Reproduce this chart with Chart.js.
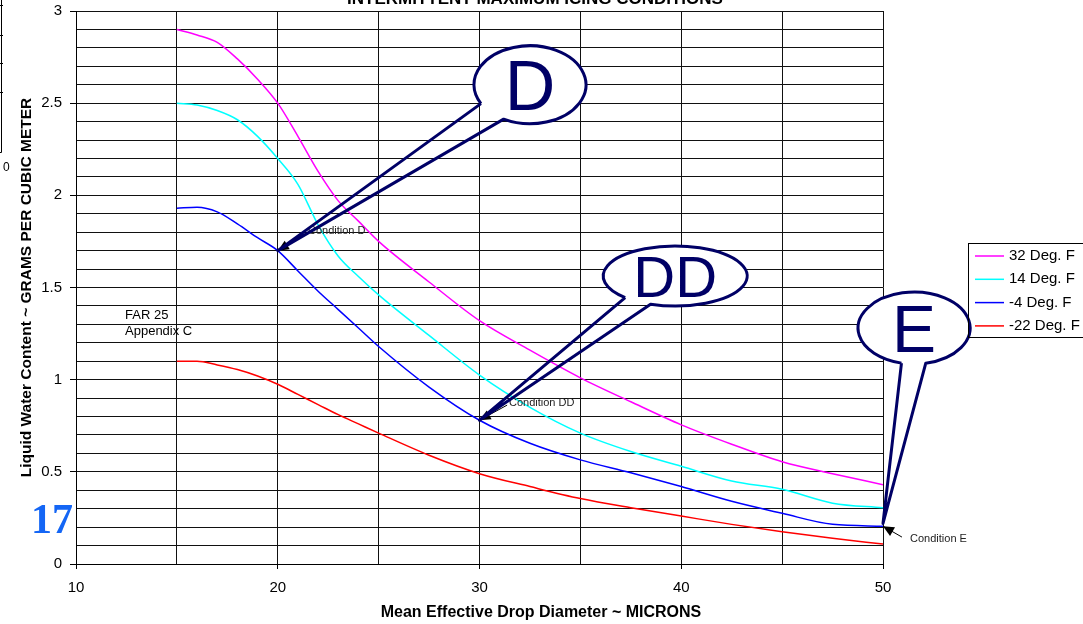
<!DOCTYPE html>
<html>
<head>
<meta charset="utf-8">
<title>Liquid Water Content vs Mean Effective Drop Diameter</title>
<script src="https://cdn.jsdelivr.net/npm/chart.js@4.4.1/dist/chart.umd.min.js"></script>
<style>
  html, body { margin: 0; padding: 0; background: #fff; }
  #wrap { position: relative; width: 1083px; height: 624px; }
</style>
</head>
<body>
<div id="wrap"><canvas id="lwcChart" width="1083" height="624"></canvas></div>
<script>
// Mean effective drop diameter (microns), shared by every curve
const diameters = [15, 16, 17, 18, 19, 20, 21, 22, 23, 24, 25, 27.5, 30, 32.5, 35, 37.5, 40, 42.5, 45, 47.5, 50];

// Liquid water content (g/m3)
const lwc32F = [2.90, 2.87, 2.83, 2.74, 2.63, 2.50, 2.32, 2.13, 1.97, 1.86, 1.75, 1.53, 1.32, 1.16, 1.01, 0.88, 0.755, 0.65, 0.555, 0.49, 0.43];
const lwc14F = [2.50, 2.49, 2.46, 2.41, 2.32, 2.20, 2.06, 1.84, 1.67, 1.56, 1.46, 1.24, 1.025, 0.85, 0.71, 0.61, 0.53, 0.45, 0.405, 0.33, 0.305];
const lwcMinus4F = [1.93, 1.935, 1.91, 1.845, 1.77, 1.70, 1.59, 1.48, 1.38, 1.28, 1.18, 0.96, 0.78, 0.655, 0.565, 0.495, 0.42, 0.34, 0.275, 0.215, 0.205];
const lwcMinus22F = [1.10, 1.10, 1.08, 1.055, 1.02, 0.975, 0.92, 0.865, 0.81, 0.76, 0.71, 0.59, 0.49, 0.42, 0.355, 0.305, 0.26, 0.215, 0.175, 0.14, 0.108];

const seriesNames = ['32 Deg. F', '14 Deg. F', '-4 Deg. F', '-22 Deg. F'];
const seriesColors = ['#ff00ff', '#00ffff', '#0000ff', '#ff0000'];

// labelled ticks (grid lines are drawn at every 5 microns / 0.1 g)
const xTickLabels = [10, 20, 30, 40, 50];
const yTickLabels = [0, 0.5, 1, 1.5, 2, 2.5, 3];

const navy = '#000066';

// callout balloons, anchored in data units
const callouts = [
  { text: 'D', x: 32.5, y: 2.6, tipX: 20, tipY: 1.70, rx: 56, ry: 39, a: 151, b: 118, size: 70 },
  { text: 'DD', x: 39.7, y: 1.5625, tipX: 30, tipY: 0.78, rx: 72, ry: 30, a: 134, b: 110, size: 58 },
  { text: 'E', x: 51.54, y: 1.28, tipX: 50, tipY: 0.22, rx: 56, ry: 36, a: 103, b: 78, size: 66 }
];

// small "Condition" notes with black arrows
const notes = [
  { text: 'Condition D', x: 21.5, y: 1.807, fromX: 21.4, fromY: 1.79, toX: 20, toY: 1.70 },
  { text: 'Condition DD', x: 31.46, y: 0.873, fromX: 31.37, fromY: 0.862, toX: 30, toY: 0.78 },
  { text: 'Condition E', x: 51.34, y: 0.136, fromX: 50.94, fromY: 0.146, toX: 50, toY: 0.205 }
];

function toPoints(values) {
  return diameters.map((d, i) => ({ x: d, y: values[i] }));
}

function isLabelled(list, v) {
  return list.some(t => Math.abs(t - v) < 1e-6);
}

function arrowHead(ctx, x0, y0, x1, y1, len, half) {
  const ang = Math.atan2(y1 - y0, x1 - x0);
  ctx.beginPath();
  ctx.moveTo(x1, y1);
  ctx.lineTo(x1 - len * Math.cos(ang) + half * Math.sin(ang), y1 - len * Math.sin(ang) - half * Math.cos(ang));
  ctx.lineTo(x1 - len * Math.cos(ang) - half * Math.sin(ang), y1 - len * Math.sin(ang) + half * Math.cos(ang));
  ctx.closePath();
  ctx.fill();
}

const annotations = {
  id: 'annotations',
  afterDatasetsDraw(chart) {
    const ctx = chart.ctx;
    const xs = chart.scales.x, ys = chart.scales.y;
    ctx.save();

    // FAR 25 note
    ctx.fillStyle = '#000';
    ctx.font = '13px "Liberation Sans", Arial, sans-serif';
    ctx.textAlign = 'left';
    ctx.textBaseline = 'middle';
    ctx.fillText('FAR 25', xs.getPixelForValue(12.43), ys.getPixelForValue(1.35));
    ctx.fillText('Appendix C', xs.getPixelForValue(12.43), ys.getPixelForValue(1.26));

    // condition notes + black arrows
    ctx.font = '11px "Liberation Sans", Arial, sans-serif';
    notes.forEach(n => {
      const fx = xs.getPixelForValue(n.fromX), fy = ys.getPixelForValue(n.fromY);
      const tx = xs.getPixelForValue(n.toX), ty = ys.getPixelForValue(n.toY);
      ctx.strokeStyle = '#000';
      ctx.lineWidth = 1;
      ctx.beginPath();
      ctx.moveTo(fx, fy);
      ctx.lineTo(tx, ty);
      ctx.stroke();
      ctx.fillStyle = '#000';
      arrowHead(ctx, fx, fy, tx, ty, 11, 5);
      ctx.fillStyle = '#222';
      ctx.fillText(n.text, xs.getPixelForValue(n.x), ys.getPixelForValue(n.y));
    });

    // balloon callouts
    callouts.forEach(c => {
      const cx = xs.getPixelForValue(c.x), cy = ys.getPixelForValue(c.y);
      const tx = xs.getPixelForValue(c.tipX), ty = ys.getPixelForValue(c.tipY);
      const a = c.a * Math.PI / 180, b = c.b * Math.PI / 180;
      ctx.beginPath();
      ctx.ellipse(cx, cy, c.rx, c.ry, 0, 0, Math.PI * 2);
      ctx.fillStyle = '#fff';
      ctx.fill();
      ctx.beginPath();
      ctx.moveTo(cx + c.rx * Math.cos(a), cy + c.ry * Math.sin(a));
      ctx.lineTo(tx, ty);
      ctx.lineTo(cx + c.rx * Math.cos(b), cy + c.ry * Math.sin(b));
      ctx.ellipse(cx, cy, c.rx, c.ry, 0, b, a, true);
      ctx.lineWidth = 3;
      ctx.strokeStyle = navy;
      ctx.lineJoin = 'round';
      ctx.stroke();
      ctx.fillStyle = navy;
      ctx.font = c.size + 'px "Liberation Sans", Arial, sans-serif';
      ctx.textAlign = 'center';
      ctx.textBaseline = 'alphabetic';
      ctx.fillText(c.text, cx, cy + c.size * 0.358);
      ctx.textAlign = 'left';
      ctx.textBaseline = 'middle';
    });
    ctx.restore();
  },
  afterDraw(chart) {
    const ctx = chart.ctx;
    ctx.save();

    // clipped chart title at the very top
    ctx.fillStyle = '#000';
    ctx.font = 'bold 17px "Liberation Sans", Arial, sans-serif';
    ctx.textAlign = 'center';
    ctx.textBaseline = 'alphabetic';
    ctx.fillText('INTERMITTENT MAXIMUM ICING CONDITIONS', 535, 4);

    // x axis title (centred on the whole chart, as in the source)
    ctx.font = 'bold 16px "Liberation Sans", Arial, sans-serif';
    ctx.textBaseline = 'middle';
    ctx.fillText('Mean Effective Drop Diameter ~ MICRONS', 541, 613);

    // legend
    ctx.strokeStyle = '#000';
    ctx.lineWidth = 1;
    ctx.strokeRect(968.5, 243.5, 130, 94);
    ctx.font = '15px "Liberation Sans", Arial, sans-serif';
    ctx.textAlign = 'left';
    chart.data.datasets.forEach((ds, i) => {
      const yy = 256 + i * 23.3;
      ctx.strokeStyle = ds.borderColor;
      ctx.lineWidth = 1.5;
      ctx.beginPath();
      ctx.moveTo(975, yy);
      ctx.lineTo(1004, yy);
      ctx.stroke();
      ctx.fillStyle = '#000';
      ctx.fillText(ds.label, 1009, yy);
    });

    // page number
    ctx.fillStyle = '#1466f5';
    ctx.font = 'bold 42px "Liberation Serif", "Times New Roman", serif';
    ctx.textBaseline = 'alphabetic';
    ctx.fillText('17', 31, 533);

    // remains of the neighbouring chart on the left edge
    ctx.strokeStyle = '#000';
    ctx.lineWidth = 1;
    ctx.beginPath();
    ctx.moveTo(1.5, 0);
    ctx.lineTo(1.5, 152.5);
    ctx.lineTo(0, 152.5);
    [5, 35, 63, 92].forEach(yy => { ctx.moveTo(0, yy + 0.5); ctx.lineTo(3, yy + 0.5); });
    ctx.stroke();
    ctx.fillStyle = '#000';
    ctx.font = '12px "Liberation Sans", Arial, sans-serif';
    ctx.textBaseline = 'middle';
    ctx.fillText('0', 3, 168);
    ctx.restore();
  }
};

const ctx = document.getElementById('lwcChart');
const lwcChart = new Chart(ctx, {
  type: 'line',
  data: {
    datasets: [lwc32F, lwc14F, lwcMinus4F, lwcMinus22F].map((vals, i) => ({
      label: seriesNames[i],
      data: toPoints(vals),
      borderColor: seriesColors[i],
      backgroundColor: seriesColors[i],
      borderWidth: 1.5,
      pointRadius: 0,
      cubicInterpolationMode: 'monotone',
      fill: false
    }))
  },
  options: {
    responsive: false,
    animation: false,
    events: [],
    layout: { padding: { left: 0, right: 200, top: 11, bottom: 0 } },
    plugins: {
      legend: { display: false },
      tooltip: { enabled: false }
    },
    scales: {
      x: {
        type: 'linear',
        min: 10,
        max: 50,
        afterFit(scale) {
          scale.height = 60;
          scale.paddingLeft = 0;
          scale.paddingRight = 0;
        },
        border: { color: '#000', width: 1 },
        grid: {
          color: '#111',
          lineWidth: 1,
          tickLength: 5,
          tickColor: c => (c.tick && isLabelled(xTickLabels, c.tick.value)) ? '#000' : 'rgba(0,0,0,0)'
        },
        ticks: {
          stepSize: 5,
          autoSkip: false,
          maxRotation: 0,
          padding: 10,
          color: '#000',
          font: { size: 15, family: '"Liberation Sans", Arial, sans-serif' },
          callback: v => isLabelled(xTickLabels, v) ? String(v) : ''
        }
      },
      y: {
        type: 'linear',
        min: 0,
        max: 3,
        afterFit(scale) {
          scale.width = 76;
          scale.paddingTop = 0;
          scale.paddingBottom = 0;
        },
        border: { color: '#000', width: 1 },
        grid: {
          color: '#111',
          lineWidth: 1,
          tickLength: 6,
          tickColor: c => (c.tick && isLabelled(yTickLabels, c.tick.value)) ? '#000' : 'rgba(0,0,0,0)'
        },
        ticks: {
          stepSize: 0.1,
          autoSkip: false,
          padding: 8,
          color: '#000',
          font: { size: 15, family: '"Liberation Sans", Arial, sans-serif' },
          callback: v => isLabelled(yTickLabels, v) ? String(Math.round(v * 10) / 10) : ''
        },
        title: {
          display: true,
          text: 'Liquid Water Content ~ GRAMS PER CUBIC METER',
          color: '#000',
          padding: { top: 17, bottom: 0 },
          font: { size: 15.5, weight: 'bold', family: '"Liberation Sans", Arial, sans-serif' }
        }
      }
    }
  },
  plugins: [annotations]
});
</script>
</body>
</html>
